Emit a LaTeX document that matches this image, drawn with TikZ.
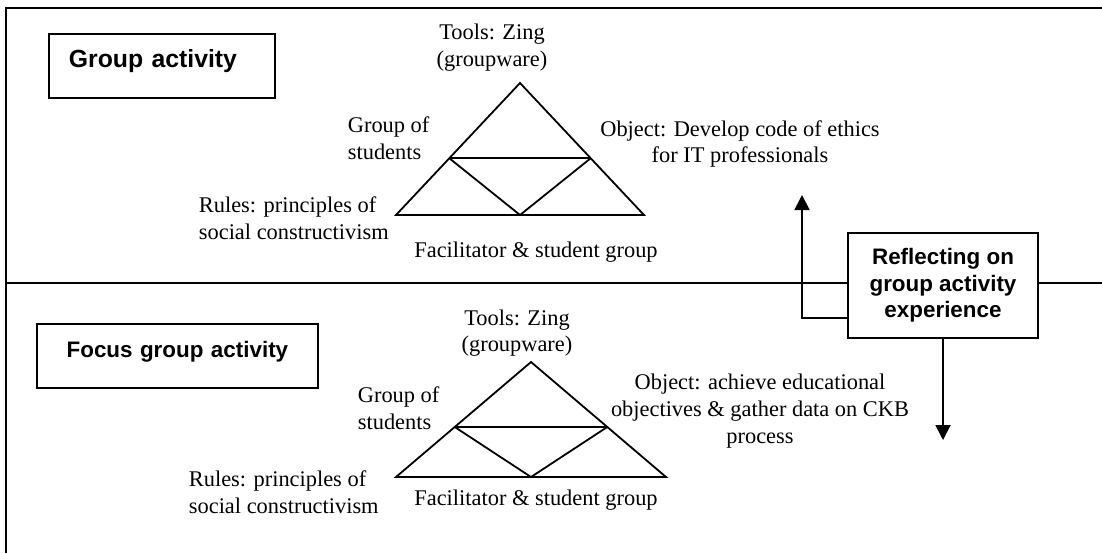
\documentclass[tikz,border=0pt]{standalone}
\usepackage{fontspec}
\setmainfont{Liberation Serif}
\setsansfont{Liberation Sans}
\usetikzlibrary{arrows.meta, calc}

\begin{document}
\begin{tikzpicture}[
      x=0.5pt, y=-0.5pt,
      line width=0.9pt,
      every node/.style={inner sep=0pt, font=\fontsize{11.2}{13.3}\selectfont},
      actbox/.style={draw, fill=white, font=\sffamily\bfseries\fontsize{11.2}{13.3}\selectfont,
        text height=17pt, text depth=15pt, anchor=north west},
      reflbox/.style={draw, fill=white, font=\sffamily\bfseries\fontsize{11.2}{13.3}\selectfont,
        align=center, minimum width=95pt, minimum height=52.5pt},
      arr/.style={-{Triangle[length=7.5pt, width=7.5pt]}}
    ]
      \useasboundingbox (0,0) rectangle (1102,553);
      \draw (1102,8) -- (6,8) -- (6,553);
      \draw (6,283) -- (1102,283);

      \node[actbox, inner xsep=10pt, text width=93pt, align=left,
        font=\sffamily\bfseries\fontsize{12.4}{14}\selectfont] (grp) at (48,33) {Group activity};
      \node[actbox, text width=140.5pt, align=center] (fgrp) at (36,323) {Focus group activity};
      \node[reflbox] (refl) at (943,285.5) {Reflecting on\\group activity\\experience};

      \coordinate (ta1) at (520,83);
      \coordinate (bl1) at (396,215);
      \coordinate (br1) at (644,215);
      \coordinate (bm1) at ($(bl1)!0.5!(br1)$);
      \coordinate (ml1) at ($(ta1)!0.57!(bl1)$);
      \coordinate (mr1) at ($(ta1)!0.57!(br1)$);
      \draw (bl1) -- (ta1) -- (br1) -- cycle;
      \draw (ml1) -- (mr1);
      \draw (ml1) -- (bm1) -- (mr1);

      \coordinate (ta2) at (531,362);
      \coordinate (bl2) at (396,477);
      \coordinate (br2) at (666,477);
      \coordinate (bm2) at ($(bl2)!0.5!(br2)$);
      \coordinate (ml2) at ($(ta2)!0.565!(bl2)$);
      \coordinate (mr2) at ($(ta2)!0.565!(br2)$);
      \draw (bl2) -- (ta2) -- (br2) -- cycle;
      \draw (ml2) -- (mr2);
      \draw (ml2) -- (bm2) -- (mr2);

      \node[align=center] (tools1) at (492,47.5) {Tools: Zing\\(groupware)};
      \node[anchor=west, align=left] (stud1) at (347,138) {Group of\\students};
      \node[anchor=west, align=left] (rules1) at (198,218) {Rules: principles of\\social constructivism};
      \node (fac1) at (536,252) {Facilitator \& student group};
      \node[align=center] (obj1) at (740,144) {Object: Develop code of ethics\\for IT professionals};

      \node[align=center] (tools2) at (517,333) {Tools: Zing\\(groupware)};
      \node[anchor=west, align=left] (stud2) at (357,408) {Group of\\students};
      \node[anchor=west, align=left] (rules2) at (188,492) {Rules: principles of\\social constructivism};
      \node (fac2) at (536,500) {Facilitator \& student group};
      \node[align=center] (obj2) at (760,411) {Object: achieve educational\\objectives \& gather data on CKB\\process};

      \coordinate (objtop) at (802,195);
      \coordinate (objbot) at (945,440);
      \draw[arr] ([yshift=-16.25pt]refl.west) -| (objtop);
      \draw[arr] (refl.south) -- (refl.south |- objbot);
    \end{tikzpicture}
\end{document}
